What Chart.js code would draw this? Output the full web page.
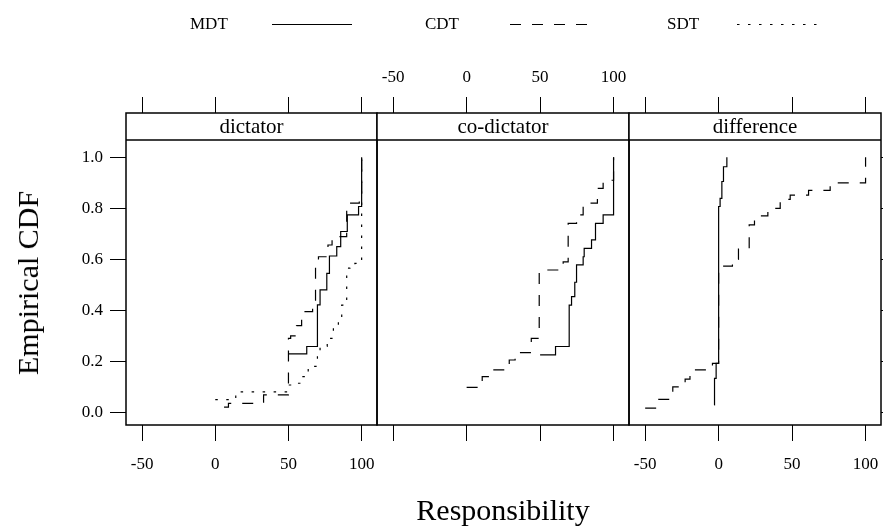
<!DOCTYPE html>
<html>
<head>
<meta charset="utf-8">
<script src="https://cdn.jsdelivr.net/npm/chart.js@4.4.0/dist/chart.umd.min.js"></script>
<style>
html,body{margin:0;padding:0;background:#fff;}
#wrap{position:relative;width:883px;height:531px;overflow:hidden;font-family:"Liberation Serif","DejaVu Serif",serif;color:#000;}
#wrap canvas{position:absolute;left:0;top:0;}
.lg{position:absolute;top:12px;font-size:17px;line-height:24px;white-space:nowrap;}
.ls{position:absolute;top:23px;}
#ytitle{position:absolute;left:28px;top:283px;font-size:30px;line-height:36px;white-space:nowrap;transform:translate(-50%,-50%) rotate(-90deg);}
</style>
</head>
<body>
<div id="wrap">
  <canvas id="c0" width="883" height="531"></canvas>
  <canvas id="c1" width="883" height="531"></canvas>
  <canvas id="c2" width="883" height="531"></canvas>
  <div id="ytitle">Empirical CDF</div>
  <div class="lg" style="left:190px">MDT</div>
  <svg class="ls" style="left:272px" width="80" height="3"><line x1="0" y1="1.5" x2="80" y2="1.5" stroke="#000" stroke-width="1.2"/></svg>
  <div class="lg" style="left:425px">CDT</div>
  <svg class="ls" style="left:510px" width="80" height="3"><line x1="0" y1="1.5" x2="80" y2="1.5" stroke="#000" stroke-width="1.2" stroke-dasharray="11 11"/></svg>
  <div class="lg" style="left:667px">SDT</div>
  <svg class="ls" style="left:737px" width="80" height="3"><line x1="0" y1="1.5" x2="80" y2="1.5" stroke="#000" stroke-width="1.2" stroke-dasharray="2.5 8.5"/></svg>
</div>
<script>
// ---------- data ----------
const panelNames = ['dictator', 'co-dictator', 'difference'];
const seriesNames = ['MDT', 'CDT', 'SDT'];
const xTickValues = [-50, 0, 50, 100];
const yTickValues = [0, 0.2, 0.4, 0.6, 0.8, 1.0];

// dictator panel
const dictatorMDT_x = [50, 62.5, 69.8, 71.6, 76.2, 78, 83, 85.7, 90.2, 97.9, 100];
const dictatorMDT_y = [0.229, 0.258, 0.421, 0.48, 0.545, 0.613, 0.65, 0.709, 0.774, 0.807, 1.0];
const dictatorCDT_x = [6, 9, 33, 50, 51.5, 55.5, 59, 66.5, 68.5, 70.5, 77, 79.8, 89.8, 98.4, 100];
const dictatorCDT_y = [0.02, 0.035, 0.068, 0.29, 0.30, 0.34, 0.395, 0.44, 0.59, 0.61, 0.656, 0.689, 0.82, 0.84, 1.0];
const dictatorSDT_x = [0, 14, 50, 53.5, 59, 63.5, 69.8, 71.6, 76.5, 80.7, 84.1, 86.4, 89.8, 92, 95.4, 100];
const dictatorSDT_y = [0.05, 0.08, 0.107, 0.114, 0.14, 0.18, 0.22, 0.258, 0.29, 0.336, 0.36, 0.42, 0.565, 0.578, 0.584, 1.0];

// co-dictator panel
const codictatorMDT_x = [50, 60.5, 69.8, 71.4, 73.6, 74.8, 79.3, 80, 85, 87.7, 92.9, 100];
const codictatorMDT_y = [0.225, 0.258, 0.42, 0.454, 0.51, 0.578, 0.61, 0.643, 0.676, 0.741, 0.774, 1.0];
const codictatorCDT_x = [0, 10.6, 18.1, 29, 33, 44, 49.4, 65.7, 69.1, 74.8, 79.3, 89, 92.9, 100];
const codictatorCDT_y = [0.098, 0.14, 0.166, 0.205, 0.234, 0.29, 0.558, 0.59, 0.741, 0.774, 0.82, 0.878, 0.91, 1.0];

// difference panel
const differenceMDT_x = [-3, -2.8, -1.7, 0, 1, 2.2, 3.3, 5.6];
const differenceMDT_y = [0.029, 0.133, 0.192, 0.807, 0.839, 0.905, 0.963, 1.0];
const differenceCDT_x = [-50, -41.5, -31.2, -22.8, -19.5, -4.2, 0, 1.7, 9.4, 13.5, 20.8, 24.4, 33.5, 41.9, 48.7, 61.2, 75.9, 100];
const differenceCDT_y = [0.016, 0.051, 0.10, 0.13, 0.166, 0.192, 0.558, 0.573, 0.60, 0.64, 0.735, 0.77, 0.80, 0.835, 0.852, 0.87, 0.90, 1.0];

// ---------- styling / layout ----------
const X_MIN = -61, X_MAX = 110.5;
const Y_MIN = -0.0498, Y_MAX = 1.1737;   // upper part holds the strip
const STRIP_H = 27;
const FONT = '"Liberation Serif", "DejaVu Serif", serif';
const styles = {
  MDT: { borderDash: [] },
  CDT: { borderDash: [11, 11] },
  SDT: { borderDash: [2.5, 8.5] }
};

function pts(xs, ys) { return xs.map((x, i) => ({ x: x, y: ys[i] })); }
function ds(name, xs, ys) {
  return {
    label: name, data: pts(xs, ys), stepped: true,
    borderColor: '#000', borderWidth: 1.2, borderDash: styles[name].borderDash,
    pointRadius: 0, fill: false, tension: 0
  };
}

const stripPlugin = {
  id: 'strip',
  afterDraw(chart, args, opts) {
    const { ctx, chartArea: a } = chart;
    ctx.save();
    ctx.fillStyle = '#fff';
    ctx.fillRect(a.left, a.top, a.right - a.left, STRIP_H);
    ctx.strokeStyle = '#000';
    ctx.lineWidth = 1.5;
    ctx.strokeRect(a.left, a.top, a.right - a.left, a.bottom - a.top);
    ctx.beginPath();
    ctx.moveTo(a.left, a.top + STRIP_H);
    ctx.lineTo(a.right, a.top + STRIP_H);
    ctx.stroke();
    ctx.fillStyle = '#000';
    ctx.font = '21px ' + FONT;
    ctx.textAlign = 'center';
    ctx.textBaseline = 'middle';
    ctx.fillText(opts.label, (a.left + a.right) / 2, a.top + STRIP_H / 2 + 1);
    ctx.restore();
  }
};

const tickFont = { family: FONT, size: 17 };
const gridOpts = { display: true, drawOnChartArea: false, drawTicks: true, tickLength: 16, color: '#000', lineWidth: 1 };

function xScale(pos, showLabels, height, title) {
  const s = {
    type: 'linear', position: pos, min: X_MIN, max: X_MAX,
    afterBuildTicks: sc => { sc.ticks = xTickValues.map(v => ({ value: v })); },
    afterFit: sc => { sc.height = height; sc.paddingLeft = 0; sc.paddingRight = 0; },
    ticks: { display: showLabels, font: tickFont, color: '#000', padding: pos === 'top' ? 9 : 13, maxRotation: 0, autoSkip: false, callback: v => String(v) },
    grid: gridOpts,
    border: { display: false }
  };
  if (pos === 'top') s.axis = 'x';
  if (title) s.title = { display: true, text: title, font: { family: FONT, size: 30 }, color: '#000', padding: { top: 0, bottom: 1 } };
  return s;
}
function yScale(pos, display, showLabels, width) {
  return {
    type: 'linear', position: pos, min: Y_MIN, max: Y_MAX, display: display,
    afterBuildTicks: sc => { sc.ticks = yTickValues.map(v => ({ value: v })); },
    afterFit: sc => { sc.width = width; sc.paddingTop = 0; sc.paddingBottom = 0; },
    ticks: { display: showLabels, font: tickFont, color: '#000', padding: 7, callback: v => Number(v).toFixed(1) },
    grid: gridOpts,
    border: { display: false }
  };
}

const common = {
  responsive: false, animation: false, devicePixelRatio: 1,
  events: []
};

// left panel: dictator
new Chart(document.getElementById('c0'), {
  type: 'line',
  data: { datasets: [ds('MDT', dictatorMDT_x, dictatorMDT_y), ds('CDT', dictatorCDT_x, dictatorCDT_y), ds('SDT', dictatorSDT_x, dictatorSDT_y)] },
  options: Object.assign({}, common, {
    layout: { padding: { left: 0, right: 506, top: 0, bottom: 0 } },
    plugins: { legend: { display: false }, tooltip: { enabled: false }, strip: { label: panelNames[0] } },
    scales: {
      x: xScale('bottom', true, 106),
      x2: xScale('top', false, 113),
      y: yScale('left', true, true, 126)
    }
  }),
  plugins: [stripPlugin]
});

// middle panel: co-dictator
new Chart(document.getElementById('c1'), {
  type: 'line',
  data: { datasets: [ds('MDT', codictatorMDT_x, codictatorMDT_y), ds('CDT', codictatorCDT_x, codictatorCDT_y)] },
  options: Object.assign({}, common, {
    layout: { padding: { left: 377, right: 254, top: 0, bottom: 0 } },
    plugins: { legend: { display: false }, tooltip: { enabled: false }, strip: { label: panelNames[1] } },
    scales: {
      x: xScale('bottom', false, 106, 'Responsibility'),
      x2: xScale('top', true, 113),
      y: yScale('left', false, false, 0)
    }
  }),
  plugins: [stripPlugin]
});

// right panel: difference
new Chart(document.getElementById('c2'), {
  type: 'line',
  data: { datasets: [ds('MDT', differenceMDT_x, differenceMDT_y), ds('CDT', differenceCDT_x, differenceCDT_y)] },
  options: Object.assign({}, common, {
    layout: { padding: { left: 629, right: 0, top: 0, bottom: 0 } },
    plugins: { legend: { display: false }, tooltip: { enabled: false }, strip: { label: panelNames[2] } },
    scales: {
      x: xScale('bottom', true, 106),
      x2: xScale('top', false, 113),
      y: yScale('right', true, false, 2)
    }
  }),
  plugins: [stripPlugin]
});
</script>
</body>
</html>
